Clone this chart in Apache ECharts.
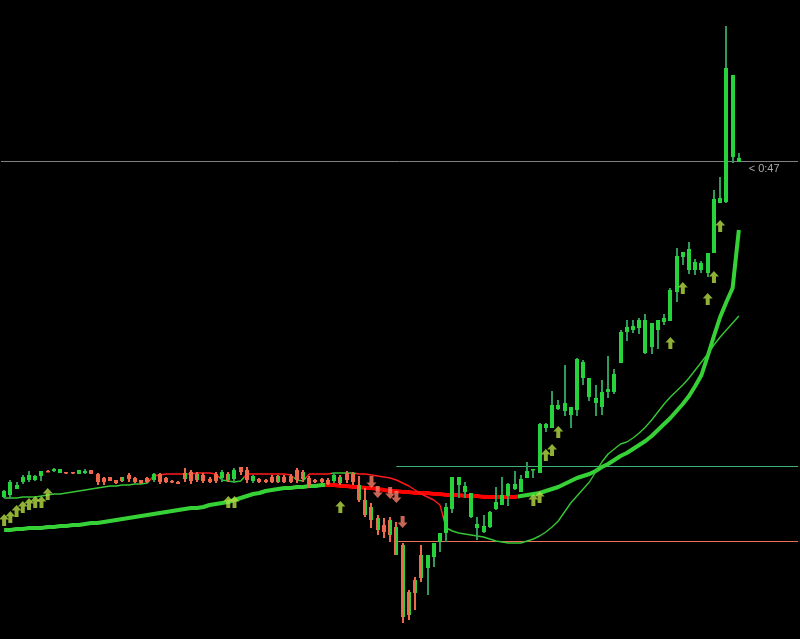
<!DOCTYPE html>
<html>
<head>
<meta charset="utf-8">
<script src="https://cdn.jsdelivr.net/npm/echarts@6/dist/echarts.min.js"></script>
<style>
html,body{margin:0;padding:0;background:#000;}
#chart{width:800px;height:639px;}
</style>
</head>
<body>
<div id="chart"></div>
<script>
// ---------------- data (price units) ----------------
var openPrice = [142,144,150,157,159,159,163,168,168,166,
167,167,165,166,169,165,161,162,159,162,
164,161,159,161,159,165,161,158,157,166,
167,165,164,160,165,161,165,160,172,169,
158,160,159,162,163,162,163,169,167,161,
159,160,159,158,162,166,165,154,139,132,
121,114,119,112,94,47,59,84,71,82,
97,106,130,154,147,122,111,107,112,130,
134,143,150,147,161,169,166,211,211,230,
228,224,229,261,242,236,232,247,247,276,
307,309,311,286,292,309,317,318,347,382,
369,369,369,366,386,436,437,482,477];
var closePrice = [148,157,154,162,164,163,168,167,170,170,
166,166,169,168,165,157,157,158,156,158,
160,157,156,157,165,157,157,157,155,160,
158,159,158,157,158,167,159,169,167,159,
163,157,157,157,157,157,157,159,160,154,
157,157,155,164,156,159,157,139,124,119,
109,107,104,84,22,24,46,61,84,96,
106,132,162,162,153,146,115,113,127,137,
144,155,155,160,168,170,215,215,234,234,
236,232,280,277,261,241,247,250,265,307,
312,313,319,319,316,319,321,349,383,387,
390,377,376,386,440,441,571,564,481];
var lowPrice = [141,140,150,155,157,158,158,167,167,166,
165,165,165,165,165,154,154,158,155,157,
157,156,155,156,157,155,156,156,155,157,
155,157,156,156,156,157,157,156,164,156,
156,156,156,156,156,156,156,156,157,151,
156,156,154,156,154,156,154,137,122,111,
104,101,97,84,16,19,29,57,44,72,
87,97,126,141,141,121,99,106,111,129,
134,133,149,147,161,161,166,207,211,229,
223,211,223,254,238,223,224,241,245,276,
298,306,305,285,285,290,314,318,337,374,
365,364,366,362,386,436,436,476,477];
var highPrice = [149,159,157,164,168,164,168,169,171,170,
167,167,169,170,169,166,162,162,159,162,
166,162,159,162,166,166,162,159,158,171,
169,167,166,162,167,169,167,171,172,172,
164,161,160,164,164,164,165,171,169,163,
160,161,161,166,164,168,167,163,151,136,
124,121,122,117,96,49,62,94,84,96,
106,136,162,162,157,146,122,124,128,152,
162,156,168,164,177,170,216,216,248,239,
274,232,281,279,261,254,259,283,270,309,
319,319,321,325,316,319,325,351,391,387,
397,380,378,386,449,462,613,564,486];
// candle paint: g = green trend, r = red trend, m = mixed
var candleTrend = ("gggggggrggrrggrrrrrmrrrrgrrrrmrmrrrgmgrrgrrrmrrrmrrrrgmrrmmmmrmmmmmm" +
  "gggggggggggggggggggggggggggggggggggggggggggggggggggggg").split("");

var slowMA = [109,109,110,110,111,111,111,112,112,113,
113,114,114,115,116,116,117,118,119,120,
121,122,123,124,125,126,127,128,129,130,
131,131,132,134,135,136,137,139,141,143,
145,146,148,149,150,151,151,152,152,153,
153,154,154,154,153,153,152,152,151,151,
150,149,148,148,147,147,146,146,146,145,
145,144,144,144,143,143,143,142,142,142,
142,142,142,143,144,145,146,148,150,152,
155,158,161,163,165,168,172,175,179,183,
186,190,194,198,203,209,215,221,228,235,
243,253,264,283,303,322,337,351,409];
var slowMARedRuns = [[52,82]];

var trailLine = [141,141,141,142,142,142,143,144,145,145,
146,147,148,149,150,151,152,153,153,154,
154,155,155,156,163,164,165,165,165,165,
165,166,166,166,165,159,158,157,158,165,
165,165,165,165,165,165,164,159,158,165,
165,165,165,166,166,166,166,165,165,164,
163,162,161,159,156,153,149,145,142,139,
134,111,108,106,105,104,103,102,100,98,
97,96,96,96,98,100,103,107,112,118,
127,136,143,150,157,167,177,185,190,195,
197,201,206,212,219,227,235,242,248,254,
261,269,277,285,294,302,309,316,323];
var trailRedRuns = [[24,34],[39,46],[49,52],[57,70]];

var upArrowIdx = [0,1,2,3,4,5,6,7,36,37,54,85,86,87,88,89,107,109,113,114,115];
var upArrowVal = [119,122,128,132,135,137,137,145,137,137,132,139,142,184,189,207,296,351,340,362,413];
var downArrowIdx = [59,60,62,63,64];
var downArrowVal = [157,147,146,142,117];

var bidLevel = 477.5;
var supportStart = 63.5, upperLevel = 172.5, lowerLevel = 97.5;
var timerText = "< 0:47";
var timerPos = 120;
var slotCount = 128;
var priceMin = 0, priceMax = 639;

// ---------------- styling ----------------
var C_GREEN_BODY = '#27d33b', C_GREEN_WICK = '#2f9a5a', C_SALMON = '#f0684b';
var STYLE = {
  g: {wick: C_GREEN_WICK, body: C_GREEN_BODY},
  r: {wick: C_SALMON, body: C_SALMON},
  m: {wick: C_SALMON, bodyL: C_SALMON, bodyR: C_GREEN_BODY, split: true}
};

function buildPieces(runs, cIn, cOut) {
  var pieces = [], prev = null;
  runs.forEach(function (r) {
    var a = r[0], b = r[1] + 1;
    if (prev === null) pieces.push({lt: a, color: cOut});
    else pieces.push({gte: prev, lt: a, color: cOut});
    pieces.push({gte: a, lt: b, color: cIn});
    prev = b;
  });
  pieces.push({gte: prev, color: cOut});
  return pieces;
}

var candleData = openPrice.map(function (o, i) {
  return [i + 0.5, o, closePrice[i], lowPrice[i], highPrice[i]];
});
var slowData = slowMA.map(function (v, i) { return [i + 0.5, v]; });
var trailData = trailLine.map(function (v, i) { return [i + 0.5, v]; });
var upData = upArrowIdx.map(function (k, j) { return [k + 0.5, upArrowVal[j]]; });
var downData = downArrowIdx.map(function (k, j) { return [k + 0.5, downArrowVal[j]]; });

var ARROW = 'path://M5,0 L10,5.5 L7,5.5 L7,12 L3,12 L3,5.5 L0,5.5 Z';

var chart = echarts.init(document.getElementById('chart'), null, {renderer: 'canvas'});
chart.setOption({
  backgroundColor: '#000000',
  animation: false,
  grid: {left: 1, right: 2, top: 0, bottom: 0},
  xAxis: {type: 'value', min: 0, max: slotCount, show: false},
  yAxis: {type: 'value', min: priceMin, max: priceMax, show: false},
  visualMap: [
    {show: false, type: 'piecewise', seriesIndex: 3, dimension: 0,
     pieces: buildPieces(slowMARedRuns, '#ff0000', '#36d136')},
    {show: false, type: 'piecewise', seriesIndex: 4, dimension: 0,
     pieces: buildPieces(trailRedRuns, '#ff1a1a', '#35c635')}
  ],
  series: [
    {type: 'line', data: [[0, bidLevel], [slotCount, bidLevel]], symbol: 'none', silent: true,
     lineStyle: {color: '#808080', width: 1}, z: 1},
    {type: 'line', data: [[supportStart, upperLevel], [slotCount, upperLevel]], symbol: 'none', silent: true,
     lineStyle: {color: '#3cb371', width: 1}, z: 1},
    {type: 'line', data: [[supportStart, lowerLevel], [slotCount, lowerLevel]], symbol: 'none', silent: true,
     lineStyle: {color: '#f0705a', width: 1}, z: 1},
    {type: 'line', data: slowData, symbol: 'none', silent: true,
     lineStyle: {width: 4}, z: 2},
    {type: 'line', data: trailData, symbol: 'none', silent: true,
     lineStyle: {width: 1.4}, z: 2},
    {type: 'custom', data: candleData, silent: true, z: 3,
     encode: {x: 0, y: [1, 2, 3, 4]},
     renderItem: function (params, api) {
       var i = params.dataIndex;
       var x = api.value(0);
       var pO = api.coord([x, api.value(1)]);
       var pC = api.coord([x, api.value(2)]);
       var pL = api.coord([x, api.value(3)]);
       var pH = api.coord([x, api.value(4)]);
       var st = STYLE[candleTrend[i]] || STYLE.g;
       var top = Math.min(pO[1], pC[1]), bot = Math.max(pO[1], pC[1]);
       var bh = Math.max(bot - top, 1.5);
       var cx = Math.round(pO[0]);
       var ch = [{type: 'rect', shape: {x: cx - 1, y: pH[1], width: 2, height: Math.max(pL[1] - pH[1], 1)},
                  style: {fill: st.wick}}];
       if (st.split) {
         ch.push({type: 'rect', shape: {x: cx - 2, y: top, width: 2, height: bh}, style: {fill: st.bodyL}});
         ch.push({type: 'rect', shape: {x: cx, y: top, width: 2, height: bh}, style: {fill: st.bodyR}});
       } else {
         ch.push({type: 'rect', shape: {x: cx - 2, y: top, width: 4, height: bh}, style: {fill: st.body}});
       }
       return {type: 'group', children: ch};
     }},
    {type: 'scatter', data: upData, symbol: ARROW, symbolSize: [10, 12], silent: true, z: 4,
     itemStyle: {color: '#b4dc44'}},
    {type: 'scatter', data: downData, symbol: ARROW, symbolSize: [10, 12], symbolRotate: 180, silent: true, z: 4,
     itemStyle: {color: '#fa7f6c'}},
    {type: 'scatter', data: [[timerPos, bidLevel]], symbolSize: 1, silent: true, z: 5,
     itemStyle: {color: 'rgba(0,0,0,0)'},
     label: {show: true, position: 'right', distance: 0, offset: [0, 7], formatter: timerText,
             color: '#d2d2d2', fontSize: 11, fontFamily: 'Liberation Sans'}}
  ]
});
</script>
</body>
</html>
